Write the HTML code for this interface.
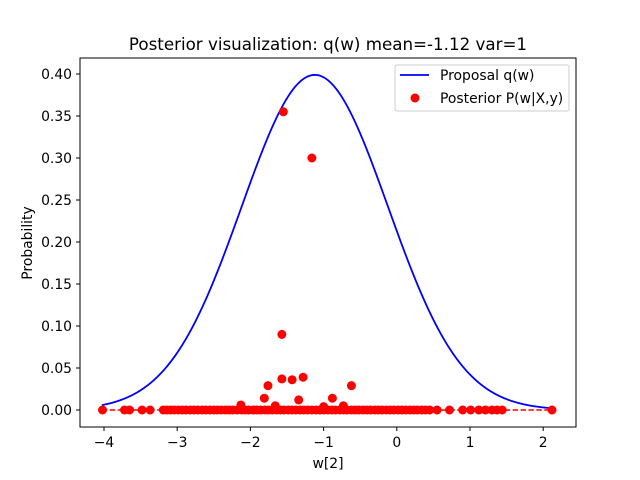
<!DOCTYPE html>
<html><head><meta charset="utf-8"><style>
body{margin:0;background:#fff;}
svg{display:block;font-family:"DejaVu Sans","Liberation Sans",sans-serif;}
</style></head><body>
<svg id="chart" width="640" height="480">
<rect x="0" y="0" width="640" height="480" fill="#fff"/>
<text x="328" y="50" font-size="16.7" text-anchor="middle">Posterior visualization: q(w) mean=-1.12 var=1</text>
<g id="plotg"></g>
<rect x="80" y="58" width="496" height="369" fill="none" stroke="#000" stroke-width="1"/>
<g id="tickg"></g>
<text x="328" y="468" font-size="13.9" text-anchor="middle">w[2]</text>
<text x="32" y="243" font-size="13.9" text-anchor="middle" transform="rotate(-90 32 243)">Probability</text>
<g>
<rect x="395" y="65" width="174" height="46" rx="2" fill="#fff" stroke="#ccc"/>
<line x1="400" y1="75" x2="429" y2="75" stroke="#00f" stroke-width="1.8"/>
<text x="440" y="80" font-size="13.9">Proposal q(w)</text>
<circle cx="415" cy="98" r="4.5" fill="#f00"/>
<text x="440" y="103" font-size="13.9">Posterior P(w|X,y)</text>
</g>
</svg>
<script>
const xTicks=[-4,-3,-2,-1,0,1,2];
const yTicks=[0,0.05,0.10,0.15,0.20,0.25,0.30,0.35,0.40];
const yTickLabels=["0.00","0.05","0.10","0.15","0.20","0.25","0.30","0.35","0.40"];
const qMean=-1.12;
const qVar=1;
const wMin=-4.03;
const wMax=2.12;
const postX=[-1.55,-1.16,-1.57,-1.76,-1.57,-1.43,-1.28,-0.62,-1.81,-1.34,-0.88,-2.13,-1.66,-1.0,-0.73];
const postY=[0.355,0.300,0.090,0.029,0.037,0.036,0.039,0.029,0.014,0.012,0.014,0.006,0.005,0.004,0.005];
const zeroX=[-4.02,-3.72,-3.65,-3.48,-3.37,-3.19,-3.14,-3.09,-3.04,-2.98,-2.93,-2.88,-2.82,-2.77,-2.72,-2.66,-2.61,-2.55,-2.5,-2.45,-2.4,-2.34,-2.29,-2.24,-2.18,-2.12,-2.07,-2.02,-1.96,-1.91,-1.86,-1.8,-1.75,-1.7,-1.64,-1.59,-1.54,-1.48,-1.43,-1.38,-1.32,-1.27,-1.22,-1.16,-1.1,-1.05,-1.0,-0.94,-0.89,-0.84,-0.78,-0.73,-0.68,-0.62,-0.57,-0.52,-0.46,-0.41,-0.36,-0.3,-0.25,-0.2,-0.14,-0.09,-0.04,0.02,0.07,0.12,0.18,0.23,0.28,0.34,0.39,0.45,0.55,0.72,0.9,1.01,1.12,1.21,1.3,1.37,1.44,2.12];
const sx=v=>396.8+v*73.2;
const sy=v=>410-v*840;
const NS="http://www.w3.org/2000/svg";
const plotG=document.getElementById('plotg'),tickG=document.getElementById('tickg');
function mk(tag,attrs,parent){const e=document.createElementNS(NS,tag);for(const k in attrs)e.setAttribute(k,attrs[k]);parent.appendChild(e);return e;}
let d="";
for(let i=0;i<=300;i++){const w=wMin+(wMax-wMin)*i/300;const p=Math.exp(-((w-qMean)*(w-qMean))/(2*qVar))/Math.sqrt(2*Math.PI*qVar);d+=(i?"L":"M")+sx(w).toFixed(2)+","+sy(p).toFixed(2);}
const curve=mk('path',{d:d,fill:'none',stroke:'#00f','stroke-width':1.8},plotG);


const dl=mk('line',{x1:sx(wMin),y1:sy(0),x2:sx(wMax),y2:sy(0),stroke:'#f00','stroke-width':1.5,'stroke-dasharray':'5.5,2.4'},plotG);


zeroX.forEach(v=>{const c=mk('circle',{cx:sx(v),cy:sy(0),r:4.5,fill:'#f00'},plotG);

});
postX.forEach((v,i)=>{const c=mk('circle',{cx:sx(v),cy:sy(postY[i]),r:4.5,fill:'#f00'},plotG);

});
xTicks.forEach(v=>{const l=mk('line',{x1:sx(v),y1:427,x2:sx(v),y2:431,stroke:'#000'},tickG);


const t=mk('text',{x:sx(v),y:447,'font-size':13.9,'text-anchor':'middle'},tickG);t.textContent=(v<0?'\u2212'+(-v):String(v));

});
yTicks.forEach((v,i)=>{const l=mk('line',{x1:76,y1:sy(v),x2:80,y2:sy(v),stroke:'#000'},tickG);


const t=mk('text',{x:72,y:sy(v)+5,'font-size':13.9,'text-anchor':'end'},tickG);t.textContent=yTickLabels[i];

});
</script>
</body></html>
